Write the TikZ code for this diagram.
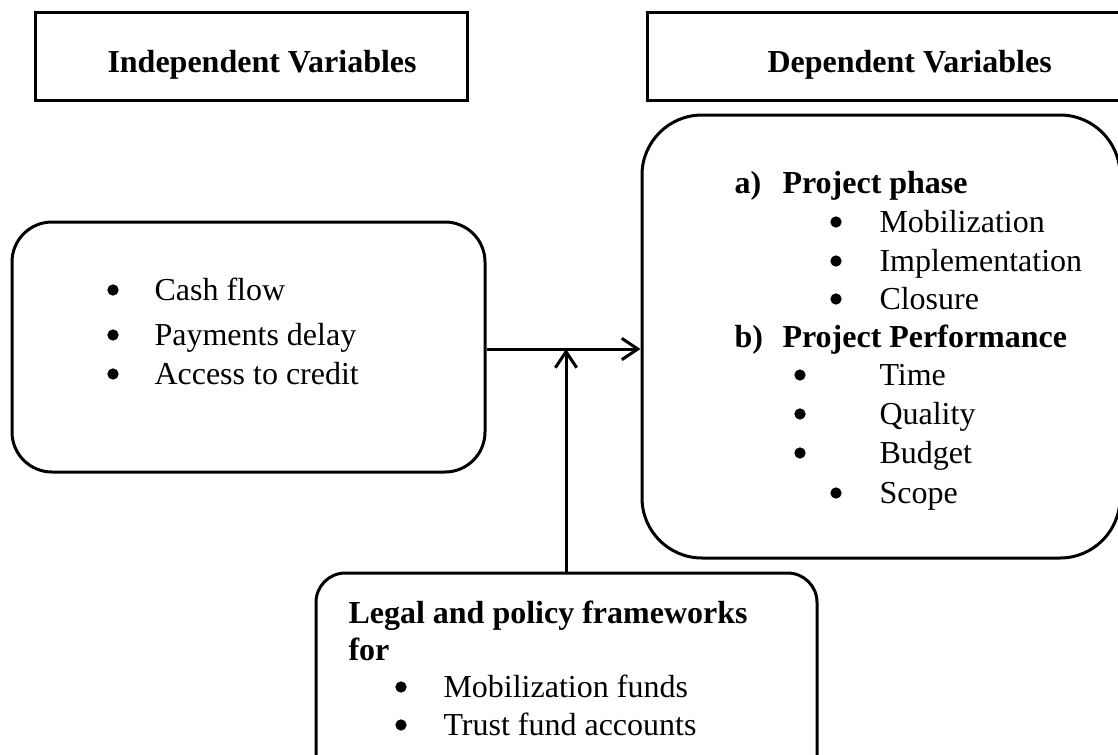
\documentclass[tikz,border=0pt]{standalone}
\usepackage{fontspec}
\setmainfont{Liberation Serif}
\usetikzlibrary{arrows.meta}
\begin{document}
\begin{tikzpicture}[x=0.75pt,y=-0.75pt,line width=2.25pt,
  font=\fontsize{24}{29}\selectfont,
  hdr/.style={draw,rectangle,inner sep=0pt},
  rbox/.style={draw,rectangle,inner sep=0pt},
  txt/.style={anchor=base west,inner sep=0pt},
  btxt/.style={txt,font=\fontsize{24}{29}\selectfont\bfseries},
  bul/.style={circle,fill,draw=none,inner sep=0pt,minimum size=8.5pt,yshift=7.5pt},
  conn/.style={-{Straight Barb[length=12pt,width=16pt,line width=2.25pt]}}]
\clip (0,0) rectangle (1118,754);
\useasboundingbox (0,0) rectangle (1118,754);
% header boxes
\node[hdr,minimum width=324pt,minimum height=66pt] (HL) at (251,56) {};
\node[hdr,minimum width=391.5pt,minimum height=66pt] (HR) at (908,56) {};
\node[btxt] (tHL) at (106,72) {Independent Variables};
\node[btxt] (tHR) at (766,72) {Dependent Variables};
% left box
\node[rbox,rounded corners=30pt,minimum width=354.75pt,minimum height=187.5pt] (L) at (248.5,347) {};
\node[bul] (b1) at (113,300) {};
\node[txt] (t1) at (153,300) {Cash flow};
\node[bul] (b2) at (113,345) {};
\node[txt] (t2) at (153,345) {Payments delay};
\node[bul] (b3) at (113,384) {};
\node[txt] (t3) at (153,384) {Access to credit};
% right box
\node[rbox,rounded corners=45pt,minimum width=358.5pt,minimum height=332.25pt] (R) at (881,336.5) {};
\node[btxt] (ra) at (733,193) {a)};
\node[btxt] (rat) at (781,193) {Project phase};
\node[bul] (rb1) at (836,232) {};
\node[txt] (rt1) at (878,232) {Mobilization};
\node[bul] (rb2) at (836,271) {};
\node[txt] (rt2) at (878,271) {Implementation};
\node[bul] (rb3) at (836,309) {};
\node[txt] (rt3) at (878,309) {Closure};
\node[btxt] (rbb) at (733,347) {b)};
\node[btxt] (rbt) at (781,347) {Project Performance};
\node[bul] (rb4) at (800,385) {};
\node[txt] (rt4) at (878,385) {Time};
\node[bul] (rb5) at (800,424) {};
\node[txt] (rt5) at (878,424) {Quality};
\node[bul] (rb6) at (800,463) {};
\node[txt] (rt6) at (878,463) {Budget};
\node[bul] (rb7) at (836,503) {};
\node[txt] (rt7) at (878,503) {Scope};
% bottom box
\node[rbox,rounded corners=22pt,minimum width=375.75pt,minimum height=162pt] (B) at (566.5,681) {};
\node[btxt] (bt1) at (347,623) {Legal and policy frameworks};
\node[btxt] (bt2) at (347,660) {for};
\node[bul] (bb1) at (401,697) {};
\node[txt] (bt3) at (442,697) {Mobilization funds};
\node[bul] (bb2) at (401,735) {};
\node[txt] (bt4) at (442,735) {Trust fund accounts};
% connectors
\coordinate (J) at (566,349);
\draw[conn] (L.east |- J) -- (R.west |- J);
\draw[conn] (B.north -| J) -- (J);
\end{tikzpicture}
\end{document}
